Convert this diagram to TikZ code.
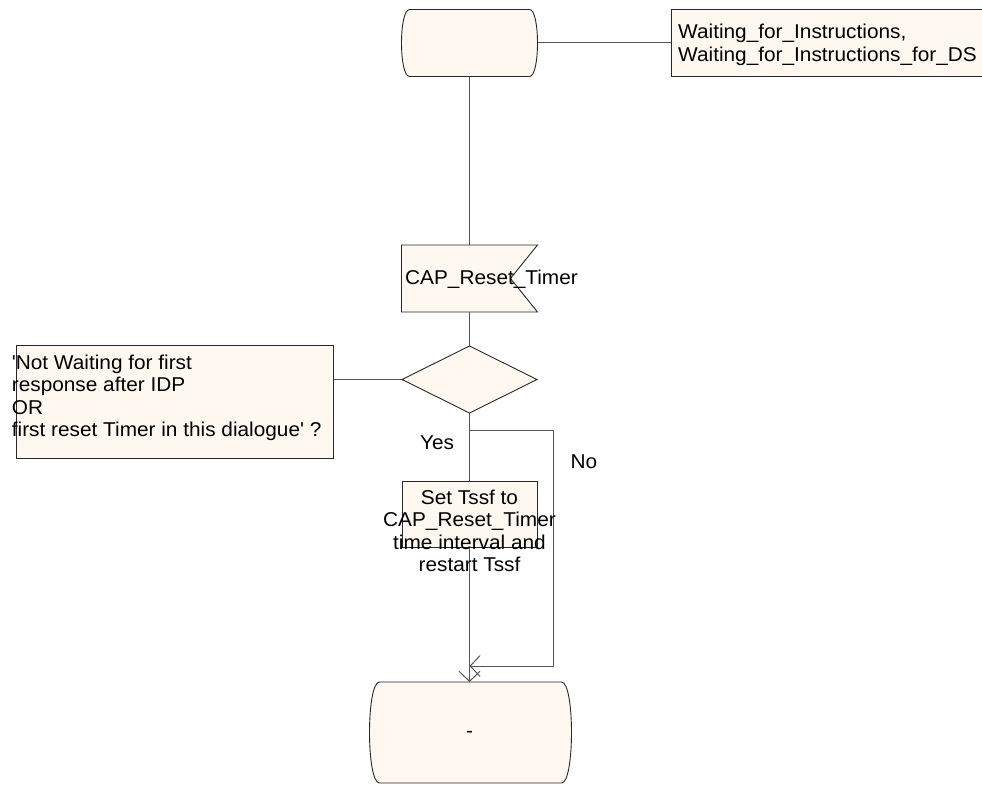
\documentclass[tikz,border=0pt]{standalone}
\usepackage{fontspec}
\setmainfont{Liberation Sans}[Ligatures=TeXOff,FakeStretch=1.04]
\usetikzlibrary{arrows.meta,calc,shapes.geometric,backgrounds}
\definecolor{sdlfill}{RGB}{255,248,240}
\definecolor{sdlline}{RGB}{40,40,40}
\definecolor{conline}{RGB}{85,85,85}
\tikzset{
  geom/.style={rectangle, inner sep=0pt, outer sep=0pt, draw=none, fill=none},
  boxnode/.style={rectangle, inner sep=0pt, outer sep=0pt, draw=sdlline, fill=sdlfill, line width=0.9pt},
  decnode/.style={diamond, inner sep=0pt, outer sep=0pt, draw=sdlline, fill=sdlfill, line width=0.9pt},
  outline/.style={draw=sdlline, fill=sdlfill, line width=0.9pt},
  conn/.style={draw=conline, line width=1pt},
  openarrow/.style={-{Straight Barb[length=10pt,width=21pt]}},
  lbl/.style={inner sep=0pt, font=\fontsize{20}{22.5}\selectfont},
}
\newcommand\sdlstatepath[2]{%
  \path[outline] ($(#1.north west)+(#2,0)$) -- ($(#1.north east)+(-#2,0)$)
    .. controls ($(#1.north east)+(#2/3,0)$) and ($(#1.south east)+(#2/3,0)$) .. ($(#1.south east)+(-#2,0)$)
    -- ($(#1.south west)+(#2,0)$)
    .. controls ($(#1.south west)+(-#2/3,0)$) and ($(#1.north west)+(-#2/3,0)$) .. ($(#1.north west)+(#2,0)$)
    -- cycle;}
\begin{document}
\begin{tikzpicture}[x=1pt,y=-1pt]
\useasboundingbox (0,0) rectangle (982,784);

% geometry nodes
\node[geom, minimum width=136pt, minimum height=67pt] (s1) at (469.5,43) {};
\node[boxnode, minimum width=318pt, minimum height=67.4pt] (c1) at (830.7,43) {};
\node[geom, minimum width=136pt, minimum height=67pt] (sig) at (469.5,278.5) {};
\node[decnode, minimum width=135pt, minimum height=67pt] (dec) at (469.5,379.5) {};
\node[boxnode, minimum width=317pt, minimum height=113pt] (c2) at (174.5,401.5) {};
\node[boxnode, minimum width=135pt, minimum height=66.7pt] (task) at (469.5,514.3) {};
\node[geom, minimum width=202pt, minimum height=101pt] (s3) at (470.5,732.5) {};

\coordinate (br) at (469.5,430);
\coordinate (nb1) at (553,430);
\coordinate (nb2) at (553,666);
\coordinate (jn) at (469.5,666);

% connectors behind the symbols
\begin{scope}[on background layer]
  \draw[conn] (s1.south) -- (sig.north);
  \draw[conn] (s1.east) -- (c1.west);
  \draw[conn] (sig.south) -- (dec.north);
  \draw[conn] (c2.east |- dec.west) -- (dec.west);
  \draw[conn] (dec.south) -- (task.north);
\end{scope}

% symbol outlines
\sdlstatepath{s1}{8}
\path[outline] (sig.north west) -- (sig.north east) -- ($(sig.east)+(-27,0)$)
  -- (sig.south east) -- (sig.south west) -- cycle;
\sdlstatepath{s3}{10}

% arrows into the end state
\draw[conn, openarrow] (task.south) -- (task.south |- s3.north);
\draw[conn, openarrow] (br) -- (nb1) -- (nb2) -- (jn);

% texts
\node[lbl, anchor=west, align=left] (c1t) at (678,45)
  {Waiting\_for\_Instructions,\\Waiting\_for\_Instructions\_for\_DS};
\node[lbl, anchor=west] (sigt) at (405,279) {CAP\_Reset\_Timer};
\node[lbl, anchor=west, align=left] (c2t) at (11.7,398)
  {'Not Waiting for first\\response after IDP\\OR\\first reset Timer in this dialogue' ?};
\node[lbl] (yes) at (437,443) {Yes};
\node[lbl] (no) at (584,462) {No};
\node[lbl, align=center] (taskt) at (469.5,531)
  {Set Tssf to\\CAP\_Reset\_Timer\\time interval and\\restart Tssf};
\node[lbl] (dash) at (469.5,734) {-};
\end{tikzpicture}
\end{document}
